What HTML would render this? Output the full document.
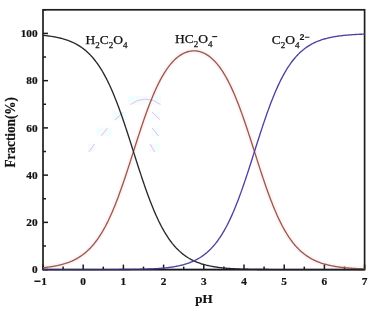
<!DOCTYPE html>
<html><head><meta charset="utf-8"><style>
html,body{margin:0;padding:0;background:#fff;}
svg{display:block;}
text{font-family:"Liberation Serif","Times New Roman",serif;}
</style></head><body>
<svg width="374" height="317" viewBox="0 0 374 317">
<rect width="374" height="317" fill="#fff"/>
<path d="M43.00,267.71 L43.80,267.62 L44.61,267.54 L45.41,267.45 L46.22,267.36 L47.02,267.26 L47.82,267.16 L48.63,267.05 L49.43,266.94 L50.24,266.83 L51.04,266.71 L51.84,266.58 L52.65,266.45 L53.45,266.32 L54.26,266.17 L55.06,266.03 L55.86,265.87 L56.67,265.71 L57.47,265.54 L58.28,265.37 L59.08,265.19 L59.88,265.00 L60.69,264.80 L61.49,264.60 L62.30,264.38 L63.10,264.16 L63.90,263.93 L64.71,263.69 L65.51,263.43 L66.32,263.17 L67.12,262.90 L67.92,262.61 L68.73,262.32 L69.53,262.01 L70.34,261.69 L71.14,261.35 L71.94,261.01 L72.75,260.64 L73.55,260.27 L74.36,259.88 L75.16,259.47 L75.96,259.04 L76.77,258.60 L77.57,258.15 L78.38,257.67 L79.18,257.18 L79.98,256.66 L80.79,256.13 L81.59,255.57 L82.40,255.00 L83.20,254.40 L84.00,253.78 L84.81,253.14 L85.61,252.47 L86.42,251.77 L87.22,251.06 L88.02,250.31 L88.83,249.54 L89.63,248.74 L90.44,247.91 L91.24,247.05 L92.04,246.16 L92.85,245.24 L93.65,244.29 L94.46,243.31 L95.26,242.29 L96.06,241.24 L96.87,240.15 L97.67,239.03 L98.48,237.87 L99.28,236.68 L100.08,235.44 L100.89,234.17 L101.69,232.86 L102.50,231.52 L103.30,230.13 L104.10,228.70 L104.91,227.23 L105.71,225.72 L106.52,224.17 L107.32,222.58 L108.12,220.95 L108.93,219.27 L109.73,217.55 L110.54,215.80 L111.34,214.00 L112.14,212.16 L112.95,210.27 L113.75,208.35 L114.56,206.39 L115.36,204.39 L116.16,202.35 L116.97,200.27 L117.77,198.16 L118.58,196.01 L119.38,193.82 L120.18,191.60 L120.99,189.35 L121.79,187.07 L122.60,184.76 L123.40,182.42 L124.20,180.05 L125.01,177.66 L125.81,175.25 L126.62,172.81 L127.42,170.36 L128.22,167.89 L129.03,165.41 L129.83,162.92 L130.64,160.41 L131.44,157.90 L132.24,155.38 L133.05,152.86 L133.85,150.34 L134.66,147.82 L135.46,145.31 L136.26,142.80 L137.07,140.30 L137.87,137.81 L138.68,135.34 L139.48,132.88 L140.28,130.44 L141.09,128.02 L141.89,125.62 L142.70,123.24 L143.50,120.89 L144.30,118.57 L145.11,116.27 L145.91,114.01 L146.72,111.78 L147.52,109.58 L148.32,107.42 L149.13,105.30 L149.93,103.21 L150.74,101.16 L151.54,99.15 L152.34,97.19 L153.15,95.26 L153.95,93.38 L154.76,91.54 L155.56,89.74 L156.36,87.98 L157.17,86.27 L157.97,84.61 L158.78,82.98 L159.58,81.41 L160.38,79.87 L161.19,78.38 L161.99,76.94 L162.80,75.54 L163.60,74.18 L164.40,72.87 L165.21,71.60 L166.01,70.37 L166.82,69.19 L167.62,68.05 L168.42,66.95 L169.23,65.89 L170.03,64.87 L170.84,63.89 L171.64,62.95 L172.44,62.05 L173.25,61.19 L174.05,60.37 L174.86,59.59 L175.66,58.84 L176.46,58.13 L177.27,57.45 L178.07,56.81 L178.88,56.21 L179.68,55.64 L180.48,55.10 L181.29,54.60 L182.09,54.13 L182.90,53.69 L183.70,53.29 L184.50,52.92 L185.31,52.58 L186.11,52.27 L186.92,51.99 L187.72,51.74 L188.52,51.53 L189.33,51.34 L190.13,51.19 L190.94,51.06 L191.74,50.96 L192.54,50.90 L193.35,50.86 L194.15,50.85 L194.96,50.87 L195.76,50.93 L196.56,51.01 L197.37,51.12 L198.17,51.26 L198.98,51.43 L199.78,51.63 L200.58,51.86 L201.39,52.13 L202.19,52.42 L203.00,52.75 L203.80,53.10 L204.60,53.49 L205.41,53.91 L206.21,54.36 L207.02,54.85 L207.82,55.37 L208.62,55.92 L209.43,56.51 L210.23,57.13 L211.04,57.78 L211.84,58.48 L212.64,59.21 L213.45,59.97 L214.25,60.78 L215.06,61.62 L215.86,62.50 L216.66,63.42 L217.47,64.37 L218.27,65.37 L219.08,66.41 L219.88,67.49 L220.68,68.61 L221.49,69.77 L222.29,70.98 L223.10,72.23 L223.90,73.52 L224.70,74.85 L225.51,76.23 L226.31,77.66 L227.12,79.12 L227.92,80.63 L228.72,82.19 L229.53,83.79 L230.33,85.43 L231.14,87.12 L231.94,88.86 L232.74,90.63 L233.55,92.45 L234.35,94.31 L235.16,96.22 L235.96,98.17 L236.76,100.15 L237.57,102.18 L238.37,104.25 L239.18,106.35 L239.98,108.50 L240.78,110.68 L241.59,112.89 L242.39,115.14 L243.20,117.41 L244.00,119.72 L244.80,122.06 L245.61,124.42 L246.41,126.81 L247.22,129.22 L248.02,131.66 L248.82,134.11 L249.63,136.57 L250.43,139.06 L251.24,141.55 L252.04,144.05 L252.84,146.57 L253.65,149.08 L254.45,151.60 L255.26,154.12 L256.06,156.64 L256.86,159.16 L257.67,161.67 L258.47,164.17 L259.28,166.65 L260.08,169.13 L260.88,171.59 L261.69,174.03 L262.49,176.46 L263.30,178.86 L264.10,181.24 L264.90,183.59 L265.71,185.91 L266.51,188.21 L267.32,190.48 L268.12,192.72 L268.92,194.92 L269.73,197.09 L270.53,199.22 L271.34,201.32 L272.14,203.37 L272.94,205.39 L273.75,207.38 L274.55,209.32 L275.36,211.22 L276.16,213.08 L276.96,214.90 L277.77,216.68 L278.57,218.42 L279.38,220.11 L280.18,221.77 L280.98,223.38 L281.79,224.95 L282.59,226.48 L283.40,227.97 L284.20,229.42 L285.00,230.83 L285.81,232.19 L286.61,233.52 L287.42,234.81 L288.22,236.06 L289.02,237.28 L289.83,238.45 L290.63,239.59 L291.44,240.70 L292.24,241.77 L293.04,242.80 L293.85,243.80 L294.65,244.77 L295.46,245.70 L296.26,246.61 L297.06,247.48 L297.87,248.33 L298.67,249.14 L299.48,249.93 L300.28,250.69 L301.08,251.42 L301.89,252.12 L302.69,252.80 L303.50,253.46 L304.30,254.09 L305.10,254.70 L305.91,255.29 L306.71,255.85 L307.52,256.40 L308.32,256.92 L309.12,257.43 L309.93,257.91 L310.73,258.38 L311.54,258.83 L312.34,259.26 L313.14,259.67 L313.95,260.07 L314.75,260.46 L315.56,260.83 L316.36,261.18 L317.16,261.52 L317.97,261.85 L318.77,262.16 L319.58,262.47 L320.38,262.76 L321.18,263.04 L321.99,263.30 L322.79,263.56 L323.60,263.81 L324.40,264.04 L325.20,264.27 L326.01,264.49 L326.81,264.70 L327.62,264.90 L328.42,265.10 L329.22,265.28 L330.03,265.46 L330.83,265.63 L331.64,265.79 L332.44,265.95 L333.24,266.10 L334.05,266.25 L334.85,266.38 L335.66,266.52 L336.46,266.64 L337.26,266.77 L338.07,266.88 L338.87,267.00 L339.68,267.11 L340.48,267.21 L341.28,267.31 L342.09,267.40 L342.89,267.49 L343.70,267.58 L344.50,267.67 L345.30,267.75 L346.11,267.82 L346.91,267.90 L347.72,267.97 L348.52,268.04 L349.32,268.10 L350.13,268.16 L350.93,268.22 L351.74,268.28 L352.54,268.34 L353.34,268.39 L354.15,268.44 L354.95,268.49 L355.76,268.53 L356.56,268.58 L357.36,268.62 L358.17,268.66 L358.97,268.70 L359.78,268.74 L360.58,268.77 L361.38,268.81 L362.19,268.84 L362.99,268.87 L363.80,268.90 L364.60,268.93" fill="none" stroke="#fef4f8" stroke-width="5"/>
<g fill="#f1fefe">
<rect x="128" y="96" width="33" height="8.5"/>
<rect x="112.3" y="111.6" width="14" height="8.8"/>
<rect x="96.4" y="127.6" width="15.2" height="8"/>
<rect x="88" y="143.6" width="7.6" height="8"/>
<rect x="151.6" y="111.6" width="8.7" height="8"/>
<rect x="151.6" y="127.6" width="8" height="8.7"/>
<rect x="149.4" y="143.6" width="10.2" height="8"/>
</g>
<g fill="none" stroke="#ffa6ea" stroke-width="0.9" stroke-linecap="round">
<path d="M130.9,104.3 A22.8,22.8 0 0 1 160.2,104.3"/>
<line x1="115.2" y1="119.6" x2="122.5" y2="113.1"/>
<line x1="101.4" y1="135.6" x2="107.3" y2="128.3"/>
<line x1="89.1" y1="151.6" x2="94.2" y2="144.3"/>
<line x1="152.4" y1="112.4" x2="159.6" y2="119.3"/>
<line x1="152.4" y1="128.3" x2="158.2" y2="135.6"/>
<line x1="150.2" y1="144.3" x2="154.5" y2="151.6"/>
</g>
<g stroke="#1a1a1a" stroke-width="1.5">
<line x1="43.00" y1="269.60" x2="43.00" y2="264.60"/>
<line x1="63.10" y1="269.60" x2="63.10" y2="266.60"/>
<line x1="83.20" y1="269.60" x2="83.20" y2="264.60"/>
<line x1="103.30" y1="269.60" x2="103.30" y2="266.60"/>
<line x1="123.40" y1="269.60" x2="123.40" y2="264.60"/>
<line x1="143.50" y1="269.60" x2="143.50" y2="266.60"/>
<line x1="163.60" y1="269.60" x2="163.60" y2="264.60"/>
<line x1="183.70" y1="269.60" x2="183.70" y2="266.60"/>
<line x1="203.80" y1="269.60" x2="203.80" y2="264.60"/>
<line x1="223.90" y1="269.60" x2="223.90" y2="266.60"/>
<line x1="244.00" y1="269.60" x2="244.00" y2="264.60"/>
<line x1="264.10" y1="269.60" x2="264.10" y2="266.60"/>
<line x1="284.20" y1="269.60" x2="284.20" y2="264.60"/>
<line x1="304.30" y1="269.60" x2="304.30" y2="266.60"/>
<line x1="324.40" y1="269.60" x2="324.40" y2="264.60"/>
<line x1="344.50" y1="269.60" x2="344.50" y2="266.60"/>
<line x1="364.60" y1="269.60" x2="364.60" y2="264.60"/>
<line x1="43.00" y1="269.60" x2="48.00" y2="269.60"/>
<line x1="43.00" y1="222.36" x2="48.00" y2="222.36"/>
<line x1="43.00" y1="175.13" x2="48.00" y2="175.13"/>
<line x1="43.00" y1="127.89" x2="48.00" y2="127.89"/>
<line x1="43.00" y1="80.66" x2="48.00" y2="80.66"/>
<line x1="43.00" y1="33.42" x2="48.00" y2="33.42"/>
<line x1="43.00" y1="245.98" x2="46.00" y2="245.98"/>
<line x1="43.00" y1="198.75" x2="46.00" y2="198.75"/>
<line x1="43.00" y1="151.51" x2="46.00" y2="151.51"/>
<line x1="43.00" y1="104.27" x2="46.00" y2="104.27"/>
<line x1="43.00" y1="57.04" x2="46.00" y2="57.04"/>
<line x1="43.00" y1="9.80" x2="46.00" y2="9.80"/>
</g>
<rect x="43.00" y="9.80" width="321.60" height="259.80" fill="none" stroke="#1e1e1e" stroke-width="1.7"/>
<path d="M43.00,267.71 L43.80,267.62 L44.61,267.54 L45.41,267.45 L46.22,267.36 L47.02,267.26 L47.82,267.16 L48.63,267.05 L49.43,266.94 L50.24,266.83 L51.04,266.71 L51.84,266.58 L52.65,266.45 L53.45,266.32 L54.26,266.17 L55.06,266.03 L55.86,265.87 L56.67,265.71 L57.47,265.54 L58.28,265.37 L59.08,265.19 L59.88,265.00 L60.69,264.80 L61.49,264.60 L62.30,264.38 L63.10,264.16 L63.90,263.93 L64.71,263.69 L65.51,263.43 L66.32,263.17 L67.12,262.90 L67.92,262.61 L68.73,262.32 L69.53,262.01 L70.34,261.69 L71.14,261.35 L71.94,261.01 L72.75,260.64 L73.55,260.27 L74.36,259.88 L75.16,259.47 L75.96,259.04 L76.77,258.60 L77.57,258.15 L78.38,257.67 L79.18,257.18 L79.98,256.66 L80.79,256.13 L81.59,255.57 L82.40,255.00 L83.20,254.40 L84.00,253.78 L84.81,253.14 L85.61,252.47 L86.42,251.77 L87.22,251.06 L88.02,250.31 L88.83,249.54 L89.63,248.74 L90.44,247.91 L91.24,247.05 L92.04,246.16 L92.85,245.24 L93.65,244.29 L94.46,243.31 L95.26,242.29 L96.06,241.24 L96.87,240.15 L97.67,239.03 L98.48,237.87 L99.28,236.68 L100.08,235.44 L100.89,234.17 L101.69,232.86 L102.50,231.52 L103.30,230.13 L104.10,228.70 L104.91,227.23 L105.71,225.72 L106.52,224.17 L107.32,222.58 L108.12,220.95 L108.93,219.27 L109.73,217.55 L110.54,215.80 L111.34,214.00 L112.14,212.16 L112.95,210.27 L113.75,208.35 L114.56,206.39 L115.36,204.39 L116.16,202.35 L116.97,200.27 L117.77,198.16 L118.58,196.01 L119.38,193.82 L120.18,191.60 L120.99,189.35 L121.79,187.07 L122.60,184.76 L123.40,182.42 L124.20,180.05 L125.01,177.66 L125.81,175.25 L126.62,172.81 L127.42,170.36 L128.22,167.89 L129.03,165.41 L129.83,162.92 L130.64,160.41 L131.44,157.90 L132.24,155.38 L133.05,152.86 L133.85,150.34 L134.66,147.82 L135.46,145.31 L136.26,142.80 L137.07,140.30 L137.87,137.81 L138.68,135.34 L139.48,132.88 L140.28,130.44 L141.09,128.02 L141.89,125.62 L142.70,123.24 L143.50,120.89 L144.30,118.57 L145.11,116.27 L145.91,114.01 L146.72,111.78 L147.52,109.58 L148.32,107.42 L149.13,105.30 L149.93,103.21 L150.74,101.16 L151.54,99.15 L152.34,97.19 L153.15,95.26 L153.95,93.38 L154.76,91.54 L155.56,89.74 L156.36,87.98 L157.17,86.27 L157.97,84.61 L158.78,82.98 L159.58,81.41 L160.38,79.87 L161.19,78.38 L161.99,76.94 L162.80,75.54 L163.60,74.18 L164.40,72.87 L165.21,71.60 L166.01,70.37 L166.82,69.19 L167.62,68.05 L168.42,66.95 L169.23,65.89 L170.03,64.87 L170.84,63.89 L171.64,62.95 L172.44,62.05 L173.25,61.19 L174.05,60.37 L174.86,59.59 L175.66,58.84 L176.46,58.13 L177.27,57.45 L178.07,56.81 L178.88,56.21 L179.68,55.64 L180.48,55.10 L181.29,54.60 L182.09,54.13 L182.90,53.69 L183.70,53.29 L184.50,52.92 L185.31,52.58 L186.11,52.27 L186.92,51.99 L187.72,51.74 L188.52,51.53 L189.33,51.34 L190.13,51.19 L190.94,51.06 L191.74,50.96 L192.54,50.90 L193.35,50.86 L194.15,50.85 L194.96,50.87 L195.76,50.93 L196.56,51.01 L197.37,51.12 L198.17,51.26 L198.98,51.43 L199.78,51.63 L200.58,51.86 L201.39,52.13 L202.19,52.42 L203.00,52.75 L203.80,53.10 L204.60,53.49 L205.41,53.91 L206.21,54.36 L207.02,54.85 L207.82,55.37 L208.62,55.92 L209.43,56.51 L210.23,57.13 L211.04,57.78 L211.84,58.48 L212.64,59.21 L213.45,59.97 L214.25,60.78 L215.06,61.62 L215.86,62.50 L216.66,63.42 L217.47,64.37 L218.27,65.37 L219.08,66.41 L219.88,67.49 L220.68,68.61 L221.49,69.77 L222.29,70.98 L223.10,72.23 L223.90,73.52 L224.70,74.85 L225.51,76.23 L226.31,77.66 L227.12,79.12 L227.92,80.63 L228.72,82.19 L229.53,83.79 L230.33,85.43 L231.14,87.12 L231.94,88.86 L232.74,90.63 L233.55,92.45 L234.35,94.31 L235.16,96.22 L235.96,98.17 L236.76,100.15 L237.57,102.18 L238.37,104.25 L239.18,106.35 L239.98,108.50 L240.78,110.68 L241.59,112.89 L242.39,115.14 L243.20,117.41 L244.00,119.72 L244.80,122.06 L245.61,124.42 L246.41,126.81 L247.22,129.22 L248.02,131.66 L248.82,134.11 L249.63,136.57 L250.43,139.06 L251.24,141.55 L252.04,144.05 L252.84,146.57 L253.65,149.08 L254.45,151.60 L255.26,154.12 L256.06,156.64 L256.86,159.16 L257.67,161.67 L258.47,164.17 L259.28,166.65 L260.08,169.13 L260.88,171.59 L261.69,174.03 L262.49,176.46 L263.30,178.86 L264.10,181.24 L264.90,183.59 L265.71,185.91 L266.51,188.21 L267.32,190.48 L268.12,192.72 L268.92,194.92 L269.73,197.09 L270.53,199.22 L271.34,201.32 L272.14,203.37 L272.94,205.39 L273.75,207.38 L274.55,209.32 L275.36,211.22 L276.16,213.08 L276.96,214.90 L277.77,216.68 L278.57,218.42 L279.38,220.11 L280.18,221.77 L280.98,223.38 L281.79,224.95 L282.59,226.48 L283.40,227.97 L284.20,229.42 L285.00,230.83 L285.81,232.19 L286.61,233.52 L287.42,234.81 L288.22,236.06 L289.02,237.28 L289.83,238.45 L290.63,239.59 L291.44,240.70 L292.24,241.77 L293.04,242.80 L293.85,243.80 L294.65,244.77 L295.46,245.70 L296.26,246.61 L297.06,247.48 L297.87,248.33 L298.67,249.14 L299.48,249.93 L300.28,250.69 L301.08,251.42 L301.89,252.12 L302.69,252.80 L303.50,253.46 L304.30,254.09 L305.10,254.70 L305.91,255.29 L306.71,255.85 L307.52,256.40 L308.32,256.92 L309.12,257.43 L309.93,257.91 L310.73,258.38 L311.54,258.83 L312.34,259.26 L313.14,259.67 L313.95,260.07 L314.75,260.46 L315.56,260.83 L316.36,261.18 L317.16,261.52 L317.97,261.85 L318.77,262.16 L319.58,262.47 L320.38,262.76 L321.18,263.04 L321.99,263.30 L322.79,263.56 L323.60,263.81 L324.40,264.04 L325.20,264.27 L326.01,264.49 L326.81,264.70 L327.62,264.90 L328.42,265.10 L329.22,265.28 L330.03,265.46 L330.83,265.63 L331.64,265.79 L332.44,265.95 L333.24,266.10 L334.05,266.25 L334.85,266.38 L335.66,266.52 L336.46,266.64 L337.26,266.77 L338.07,266.88 L338.87,267.00 L339.68,267.11 L340.48,267.21 L341.28,267.31 L342.09,267.40 L342.89,267.49 L343.70,267.58 L344.50,267.67 L345.30,267.75 L346.11,267.82 L346.91,267.90 L347.72,267.97 L348.52,268.04 L349.32,268.10 L350.13,268.16 L350.93,268.22 L351.74,268.28 L352.54,268.34 L353.34,268.39 L354.15,268.44 L354.95,268.49 L355.76,268.53 L356.56,268.58 L357.36,268.62 L358.17,268.66 L358.97,268.70 L359.78,268.74 L360.58,268.77 L361.38,268.81 L362.19,268.84 L362.99,268.87 L363.80,268.90 L364.60,268.93" fill="none" stroke="#9a5a49" stroke-width="1.35"/>
<path d="M43.00,35.31 L43.80,35.40 L44.61,35.48 L45.41,35.57 L46.22,35.66 L47.02,35.76 L47.82,35.86 L48.63,35.97 L49.43,36.08 L50.24,36.19 L51.04,36.31 L51.84,36.44 L52.65,36.57 L53.45,36.70 L54.26,36.85 L55.06,36.99 L55.86,37.15 L56.67,37.31 L57.47,37.48 L58.28,37.65 L59.08,37.83 L59.88,38.02 L60.69,38.22 L61.49,38.42 L62.30,38.64 L63.10,38.86 L63.90,39.09 L64.71,39.33 L65.51,39.59 L66.32,39.85 L67.12,40.12 L67.92,40.41 L68.73,40.70 L69.53,41.01 L70.34,41.33 L71.14,41.67 L71.94,42.02 L72.75,42.38 L73.55,42.75 L74.36,43.15 L75.16,43.55 L75.96,43.98 L76.77,44.42 L77.57,44.87 L78.38,45.35 L79.18,45.85 L79.98,46.36 L80.79,46.89 L81.59,47.45 L82.40,48.02 L83.20,48.62 L84.00,49.24 L84.81,49.89 L85.61,50.56 L86.42,51.25 L87.22,51.97 L88.02,52.71 L88.83,53.49 L89.63,54.29 L90.44,55.12 L91.24,55.97 L92.04,56.86 L92.85,57.78 L93.65,58.74 L94.46,59.72 L95.26,60.74 L96.06,61.79 L96.87,62.88 L97.67,64.00 L98.48,65.16 L99.28,66.35 L100.08,67.59 L100.89,68.86 L101.69,70.17 L102.50,71.52 L103.30,72.90 L104.10,74.33 L104.91,75.80 L105.71,77.31 L106.52,78.87 L107.32,80.46 L108.12,82.09 L108.93,83.77 L109.73,85.49 L110.54,87.25 L111.34,89.05 L112.14,90.89 L112.95,92.78 L113.75,94.70 L114.56,96.67 L115.36,98.67 L116.16,100.71 L116.97,102.79 L117.77,104.91 L118.58,107.07 L119.38,109.26 L120.18,111.48 L120.99,113.74 L121.79,116.02 L122.60,118.34 L123.40,120.69 L124.20,123.06 L125.01,125.45 L125.81,127.87 L126.62,130.31 L127.42,132.77 L128.22,135.25 L129.03,137.74 L129.83,140.24 L130.64,142.76 L131.44,145.28 L132.24,147.81 L133.05,150.34 L133.85,152.87 L134.66,155.40 L135.46,157.93 L136.26,160.45 L137.07,162.97 L137.87,165.47 L138.68,167.96 L139.48,170.44 L140.28,172.90 L141.09,175.34 L141.89,177.76 L142.70,180.16 L143.50,182.53 L144.30,184.88 L145.11,187.20 L145.91,189.49 L146.72,191.75 L147.52,193.97 L148.32,196.17 L149.13,198.32 L149.93,200.44 L150.74,202.53 L151.54,204.57 L152.34,206.58 L153.15,208.55 L153.95,210.48 L154.76,212.36 L155.56,214.21 L156.36,216.01 L157.17,217.78 L157.97,219.50 L158.78,221.18 L159.58,222.82 L160.38,224.41 L161.19,225.97 L161.99,227.48 L162.80,228.95 L163.60,230.38 L164.40,231.78 L165.21,233.13 L166.01,234.44 L166.82,235.71 L167.62,236.95 L168.42,238.15 L169.23,239.31 L170.03,240.43 L170.84,241.52 L171.64,242.58 L172.44,243.60 L173.25,244.58 L174.05,245.54 L174.86,246.46 L175.66,247.35 L176.46,248.21 L177.27,249.04 L178.07,249.85 L178.88,250.62 L179.68,251.37 L180.48,252.09 L181.29,252.78 L182.09,253.45 L182.90,254.10 L183.70,254.72 L184.50,255.32 L185.31,255.90 L186.11,256.45 L186.92,256.99 L187.72,257.50 L188.52,258.00 L189.33,258.48 L190.13,258.93 L190.94,259.38 L191.74,259.80 L192.54,260.21 L193.35,260.60 L194.15,260.98 L194.96,261.34 L195.76,261.69 L196.56,262.02 L197.37,262.34 L198.17,262.65 L198.98,262.95 L199.78,263.23 L200.58,263.51 L201.39,263.77 L202.19,264.02 L203.00,264.26 L203.80,264.50 L204.60,264.72 L205.41,264.93 L206.21,265.14 L207.02,265.33 L207.82,265.52 L208.62,265.70 L209.43,265.88 L210.23,266.04 L211.04,266.20 L211.84,266.36 L212.64,266.50 L213.45,266.64 L214.25,266.78 L215.06,266.91 L215.86,267.03 L216.66,267.15 L217.47,267.26 L218.27,267.37 L219.08,267.48 L219.88,267.58 L220.68,267.67 L221.49,267.76 L222.29,267.85 L223.10,267.94 L223.90,268.02 L224.70,268.09 L225.51,268.17 L226.31,268.24 L227.12,268.30 L227.92,268.37 L228.72,268.43 L229.53,268.49 L230.33,268.54 L231.14,268.60 L231.94,268.65 L232.74,268.70 L233.55,268.74 L234.35,268.79 L235.16,268.83 L235.96,268.87 L236.76,268.91 L237.57,268.95 L238.37,268.98 L239.18,269.02 L239.98,269.05 L240.78,269.08 L241.59,269.11 L242.39,269.13 L243.20,269.16 L244.00,269.18 L244.80,269.21 L245.61,269.23 L246.41,269.25 L247.22,269.27 L248.02,269.29 L248.82,269.31 L249.63,269.33 L250.43,269.34 L251.24,269.36 L252.04,269.37 L252.84,269.39 L253.65,269.40 L254.45,269.41 L255.26,269.42 L256.06,269.44 L256.86,269.45 L257.67,269.46 L258.47,269.46 L259.28,269.47 L260.08,269.48 L260.88,269.49 L261.69,269.50 L262.49,269.50 L263.30,269.51 L264.10,269.52 L264.90,269.52 L265.71,269.53 L266.51,269.53 L267.32,269.54 L268.12,269.54 L268.92,269.55 L269.73,269.55 L270.53,269.55 L271.34,269.56 L272.14,269.56 L272.94,269.56 L273.75,269.56 L274.55,269.57 L275.36,269.57 L276.16,269.57 L276.96,269.57 L277.77,269.58 L278.57,269.58 L279.38,269.58 L280.18,269.58 L280.98,269.58 L281.79,269.58 L282.59,269.58 L283.40,269.59 L284.20,269.59 L285.00,269.59 L285.81,269.59 L286.61,269.59 L287.42,269.59 L288.22,269.59 L289.02,269.59 L289.83,269.59 L290.63,269.59 L291.44,269.59 L292.24,269.59 L293.04,269.59 L293.85,269.59 L294.65,269.60 L295.46,269.60 L296.26,269.60 L297.06,269.60 L297.87,269.60 L298.67,269.60 L299.48,269.60 L300.28,269.60 L301.08,269.60 L301.89,269.60 L302.69,269.60 L303.50,269.60 L304.30,269.60 L305.10,269.60 L305.91,269.60 L306.71,269.60 L307.52,269.60 L308.32,269.60 L309.12,269.60 L309.93,269.60 L310.73,269.60 L311.54,269.60 L312.34,269.60 L313.14,269.60 L313.95,269.60 L314.75,269.60 L315.56,269.60 L316.36,269.60 L317.16,269.60 L317.97,269.60 L318.77,269.60 L319.58,269.60 L320.38,269.60 L321.18,269.60 L321.99,269.60 L322.79,269.60 L323.60,269.60 L324.40,269.60 L325.20,269.60 L326.01,269.60 L326.81,269.60 L327.62,269.60 L328.42,269.60 L329.22,269.60 L330.03,269.60 L330.83,269.60 L331.64,269.60 L332.44,269.60 L333.24,269.60 L334.05,269.60 L334.85,269.60 L335.66,269.60 L336.46,269.60 L337.26,269.60 L338.07,269.60 L338.87,269.60 L339.68,269.60 L340.48,269.60 L341.28,269.60 L342.09,269.60 L342.89,269.60 L343.70,269.60 L344.50,269.60 L345.30,269.60 L346.11,269.60 L346.91,269.60 L347.72,269.60 L348.52,269.60 L349.32,269.60 L350.13,269.60 L350.93,269.60 L351.74,269.60 L352.54,269.60 L353.34,269.60 L354.15,269.60 L354.95,269.60 L355.76,269.60 L356.56,269.60 L357.36,269.60 L358.17,269.60 L358.97,269.60 L359.78,269.60 L360.58,269.60 L361.38,269.60 L362.19,269.60 L362.99,269.60 L363.80,269.60 L364.60,269.60" fill="none" stroke="#2a2a2a" stroke-width="1.35"/>
<path d="M43.00,269.60 L43.80,269.60 L44.61,269.60 L45.41,269.60 L46.22,269.60 L47.02,269.60 L47.82,269.60 L48.63,269.60 L49.43,269.60 L50.24,269.60 L51.04,269.60 L51.84,269.60 L52.65,269.60 L53.45,269.60 L54.26,269.60 L55.06,269.60 L55.86,269.60 L56.67,269.60 L57.47,269.60 L58.28,269.60 L59.08,269.60 L59.88,269.60 L60.69,269.60 L61.49,269.60 L62.30,269.60 L63.10,269.60 L63.90,269.60 L64.71,269.60 L65.51,269.60 L66.32,269.60 L67.12,269.60 L67.92,269.60 L68.73,269.60 L69.53,269.60 L70.34,269.60 L71.14,269.60 L71.94,269.60 L72.75,269.60 L73.55,269.60 L74.36,269.60 L75.16,269.60 L75.96,269.60 L76.77,269.60 L77.57,269.60 L78.38,269.60 L79.18,269.60 L79.98,269.60 L80.79,269.60 L81.59,269.60 L82.40,269.60 L83.20,269.60 L84.00,269.60 L84.81,269.60 L85.61,269.60 L86.42,269.60 L87.22,269.60 L88.02,269.60 L88.83,269.60 L89.63,269.60 L90.44,269.60 L91.24,269.60 L92.04,269.60 L92.85,269.60 L93.65,269.60 L94.46,269.59 L95.26,269.59 L96.06,269.59 L96.87,269.59 L97.67,269.59 L98.48,269.59 L99.28,269.59 L100.08,269.59 L100.89,269.59 L101.69,269.59 L102.50,269.59 L103.30,269.59 L104.10,269.59 L104.91,269.59 L105.71,269.58 L106.52,269.58 L107.32,269.58 L108.12,269.58 L108.93,269.58 L109.73,269.58 L110.54,269.57 L111.34,269.57 L112.14,269.57 L112.95,269.57 L113.75,269.57 L114.56,269.56 L115.36,269.56 L116.16,269.56 L116.97,269.55 L117.77,269.55 L118.58,269.55 L119.38,269.54 L120.18,269.54 L120.99,269.53 L121.79,269.53 L122.60,269.52 L123.40,269.52 L124.20,269.51 L125.01,269.51 L125.81,269.50 L126.62,269.49 L127.42,269.49 L128.22,269.48 L129.03,269.47 L129.83,269.46 L130.64,269.45 L131.44,269.44 L132.24,269.43 L133.05,269.42 L133.85,269.41 L134.66,269.39 L135.46,269.38 L136.26,269.37 L137.07,269.35 L137.87,269.34 L138.68,269.32 L139.48,269.30 L140.28,269.28 L141.09,269.26 L141.89,269.24 L142.70,269.22 L143.50,269.20 L144.30,269.17 L145.11,269.15 L145.91,269.12 L146.72,269.09 L147.52,269.06 L148.32,269.03 L149.13,269.00 L149.93,268.96 L150.74,268.93 L151.54,268.89 L152.34,268.85 L153.15,268.81 L153.95,268.77 L154.76,268.72 L155.56,268.67 L156.36,268.62 L157.17,268.57 L157.97,268.52 L158.78,268.46 L159.58,268.40 L160.38,268.34 L161.19,268.27 L161.99,268.20 L162.80,268.13 L163.60,268.05 L164.40,267.98 L165.21,267.89 L166.01,267.81 L166.82,267.72 L167.62,267.62 L168.42,267.53 L169.23,267.43 L170.03,267.32 L170.84,267.21 L171.64,267.09 L172.44,266.97 L173.25,266.84 L174.05,266.71 L174.86,266.57 L175.66,266.43 L176.46,266.28 L177.27,266.12 L178.07,265.96 L178.88,265.79 L179.68,265.61 L180.48,265.43 L181.29,265.24 L182.09,265.04 L182.90,264.83 L183.70,264.61 L184.50,264.38 L185.31,264.14 L186.11,263.90 L186.92,263.64 L187.72,263.37 L188.52,263.09 L189.33,262.80 L190.13,262.50 L190.94,262.18 L191.74,261.86 L192.54,261.52 L193.35,261.16 L194.15,260.79 L194.96,260.41 L195.76,260.01 L196.56,259.59 L197.37,259.16 L198.17,258.71 L198.98,258.24 L199.78,257.75 L200.58,257.25 L201.39,256.72 L202.19,256.18 L203.00,255.61 L203.80,255.02 L204.60,254.41 L205.41,253.78 L206.21,253.12 L207.02,252.44 L207.82,251.73 L208.62,251.00 L209.43,250.24 L210.23,249.45 L211.04,248.63 L211.84,247.79 L212.64,246.91 L213.45,246.00 L214.25,245.07 L215.06,244.09 L215.86,243.09 L216.66,242.05 L217.47,240.98 L218.27,239.88 L219.08,238.73 L219.88,237.55 L220.68,236.34 L221.49,235.08 L222.29,233.79 L223.10,232.46 L223.90,231.08 L224.70,229.67 L225.51,228.22 L226.31,226.73 L227.12,225.19 L227.92,223.62 L228.72,222.00 L229.53,220.34 L230.33,218.64 L231.14,216.90 L231.94,215.12 L232.74,213.29 L233.55,211.42 L234.35,209.52 L235.16,207.57 L235.96,205.58 L236.76,203.56 L237.57,201.49 L238.37,199.39 L239.18,197.25 L239.98,195.08 L240.78,192.87 L241.59,190.62 L242.39,188.35 L243.20,186.05 L244.00,183.71 L244.80,181.35 L245.61,178.97 L246.41,176.56 L247.22,174.12 L248.02,171.67 L248.82,169.20 L249.63,166.72 L250.43,164.22 L251.24,161.71 L252.04,159.19 L252.84,156.67 L253.65,154.14 L254.45,151.60 L255.26,149.07 L256.06,146.54 L256.86,144.02 L257.67,141.50 L258.47,138.99 L259.28,136.49 L260.08,134.01 L260.88,131.54 L261.69,129.09 L262.49,126.66 L263.30,124.25 L264.10,121.87 L264.90,119.51 L265.71,117.18 L266.51,114.88 L267.32,112.60 L268.12,110.36 L268.92,108.16 L269.73,105.99 L270.53,103.85 L271.34,101.75 L272.14,99.69 L272.94,97.66 L273.75,95.68 L274.55,93.73 L275.36,91.83 L276.16,89.97 L276.96,88.14 L277.77,86.36 L278.57,84.62 L279.38,82.93 L280.18,81.27 L280.98,79.66 L281.79,78.08 L282.59,76.55 L283.40,75.06 L284.20,73.61 L285.00,72.21 L285.81,70.84 L286.61,69.51 L287.42,68.22 L288.22,66.97 L289.02,65.75 L289.83,64.57 L290.63,63.43 L291.44,62.33 L292.24,61.26 L293.04,60.22 L293.85,59.22 L294.65,58.26 L295.46,57.32 L296.26,56.41 L297.06,55.54 L297.87,54.70 L298.67,53.88 L299.48,53.10 L300.28,52.34 L301.08,51.60 L301.89,50.90 L302.69,50.22 L303.50,49.56 L304.30,48.93 L305.10,48.32 L305.91,47.73 L306.71,47.17 L307.52,46.62 L308.32,46.10 L309.12,45.60 L309.93,45.11 L310.73,44.64 L311.54,44.19 L312.34,43.76 L313.14,43.35 L313.95,42.95 L314.75,42.56 L315.56,42.19 L316.36,41.84 L317.16,41.50 L317.97,41.17 L318.77,40.86 L319.58,40.55 L320.38,40.26 L321.18,39.98 L321.99,39.72 L322.79,39.46 L323.60,39.21 L324.40,38.98 L325.20,38.75 L326.01,38.53 L326.81,38.32 L327.62,38.12 L328.42,37.92 L329.22,37.74 L330.03,37.56 L330.83,37.39 L331.64,37.23 L332.44,37.07 L333.24,36.92 L334.05,36.77 L334.85,36.64 L335.66,36.50 L336.46,36.38 L337.26,36.25 L338.07,36.14 L338.87,36.02 L339.68,35.91 L340.48,35.81 L341.28,35.71 L342.09,35.62 L342.89,35.53 L343.70,35.44 L344.50,35.35 L345.30,35.27 L346.11,35.20 L346.91,35.12 L347.72,35.05 L348.52,34.98 L349.32,34.92 L350.13,34.86 L350.93,34.80 L351.74,34.74 L352.54,34.68 L353.34,34.63 L354.15,34.58 L354.95,34.53 L355.76,34.49 L356.56,34.44 L357.36,34.40 L358.17,34.36 L358.97,34.32 L359.78,34.28 L360.58,34.25 L361.38,34.21 L362.19,34.18 L362.99,34.15 L363.80,34.12 L364.60,34.09" fill="none" stroke="#4a43a0" stroke-width="1.35"/>
<line x1="43.00" y1="269.60" x2="364.60" y2="269.60" stroke="#14142a" stroke-opacity="0.45" stroke-width="1.8"/>
<g font-size="11.3" font-weight="bold" fill="#111" stroke="#111" stroke-width="0.2">
<text x="83.20" y="284.6" text-anchor="middle">0</text>
<text x="123.40" y="284.6" text-anchor="middle">1</text>
<text x="163.60" y="284.6" text-anchor="middle">2</text>
<text x="203.80" y="284.6" text-anchor="middle">3</text>
<text x="244.00" y="284.6" text-anchor="middle">4</text>
<text x="284.20" y="284.6" text-anchor="middle">5</text>
<text x="324.40" y="284.6" text-anchor="middle">6</text>
<text x="364.60" y="284.6" text-anchor="middle">7</text>
<text x="46.8" y="284.6" text-anchor="end"><tspan font-family="Liberation Sans, sans-serif" font-size="11.5" dx="0">&#8722;</tspan><tspan dx="0.3">1</tspan></text>
<text x="37.6" y="273.40" text-anchor="end">0</text>
<text x="37.6" y="226.16" text-anchor="end">20</text>
<text x="37.6" y="178.93" text-anchor="end">40</text>
<text x="37.6" y="131.69" text-anchor="end">60</text>
<text x="37.6" y="84.46" text-anchor="end">80</text>
<text x="37.6" y="37.22" text-anchor="end">100</text>
</g>
<text x="204" y="302.8" font-size="13" font-weight="bold" text-anchor="middle" fill="#111" stroke="#111" stroke-width="0.2">pH</text>
<text transform="translate(14.8,132.3) rotate(-90)" x="-35.2" font-size="14.2" font-weight="bold" textLength="70.4" lengthAdjust="spacingAndGlyphs" fill="#111" stroke="#111" stroke-width="0.2">Fraction(%)</text>
<g font-size="13.5" fill="#111" stroke="#111" stroke-width="0.25">
<text x="85.6" y="44.0">H<tspan font-size="9" dy="4">2</tspan><tspan dy="-4">C</tspan><tspan font-size="9" dy="4">2</tspan><tspan dy="-4">O</tspan><tspan font-size="9" dy="4">4</tspan></text>
<text x="175.0" y="42.9">HC<tspan font-size="9" dy="4">2</tspan><tspan dy="-4">O</tspan><tspan font-size="9" dy="4">4</tspan><tspan font-size="10" font-weight="bold" font-family="Liberation Sans, Arial, sans-serif" stroke-width="0" dx="-0.5" dy="-7.3">&#8722;</tspan></text>
<text x="271.8" y="43.8">C<tspan font-size="9" dy="4">2</tspan><tspan dy="-4">O</tspan><tspan font-size="9" dy="4">4</tspan><tspan font-size="9" font-weight="bold" font-family="Liberation Sans, Arial, sans-serif" stroke-width="0" dy="-7.8">2&#8722;</tspan></text>
</g>
</svg>
</body></html>
